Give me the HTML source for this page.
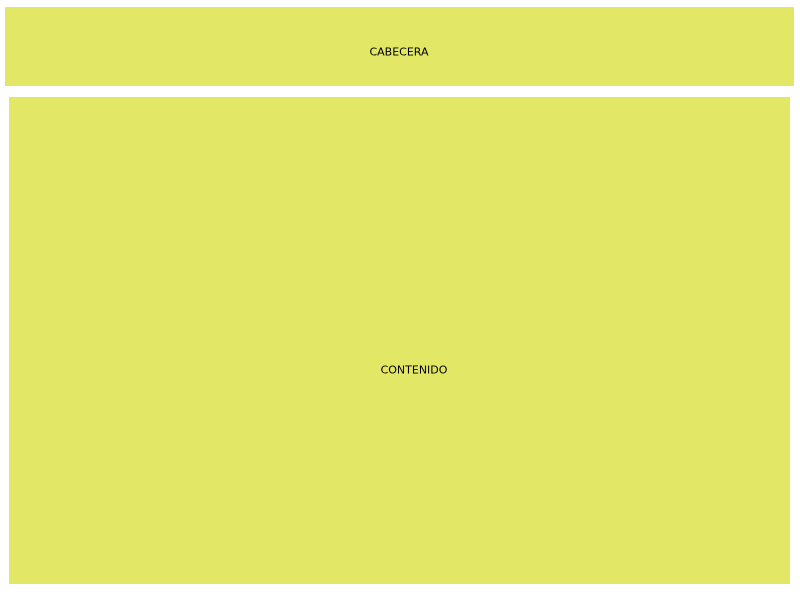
<!DOCTYPE html>
<html>
<head>
<meta charset="utf-8">
<style>
  html, body { margin: 0; padding: 0; width: 800px; height: 600px; background: #ffffff; overflow: hidden; }
  .box { position: absolute; background: #e3e766; }
  .lbl { position: absolute; font-family: "DejaVu Sans", "Liberation Sans", sans-serif; font-size: 11px; color: #000; line-height: 13px; white-space: nowrap; transform: translate(-50%, -50%); }
</style>
</head>
<body>
  <div class="box" style="left:5px; top:7px; width:789px; height:79px;"></div>
  <div class="lbl" style="left:399px; top:52px;">CABECERA</div>
  <div class="box" style="left:9px; top:97px; width:781px; height:487px;"></div>
  <div class="lbl" style="left:414px; top:370px;">CONTENIDO</div>
</body>
</html>
